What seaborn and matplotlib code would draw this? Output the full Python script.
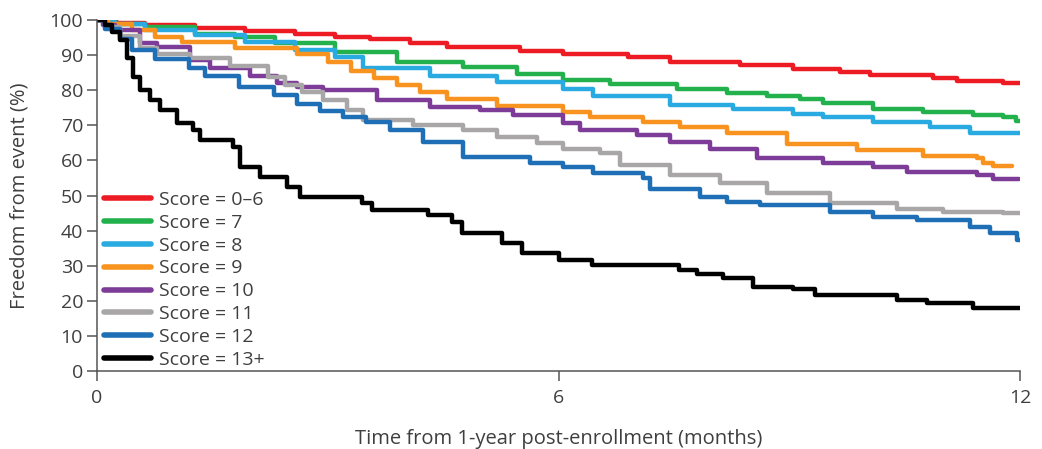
import numpy as np
import pandas as pd
import matplotlib
matplotlib.use("Agg")
import matplotlib.pyplot as plt
import seaborn as sns

# ---- data (months, % freedom from event) ----
labels = ["Score = 0\u20136", "Score = 7", "Score = 8", "Score = 9",
          "Score = 10", "Score = 11", "Score = 12", "Score = 13+"]
colors = ["#ED1C24", "#22B14C", "#29ABE2", "#F7931E",
          "#7D3C98", "#A8A6A6", "#1F6FB6", "#000000"]

t_06 = [0, 0.25, 0.62, 1.27, 1.92, 2.57, 3.1, 3.55, 4.07, 4.55, 5.5, 6.06, 6.9, 7.45, 8.36, 9.05, 9.66, 10.05, 10.87, 11.18, 11.78, 12.0]
s_06 = [100, 99.3, 98.6, 97.7, 96.9, 96.0, 95.2, 94.5, 93.4, 92.4, 91.3, 90.5, 89.4, 88.1, 87.2, 86.1, 85.1, 84.3, 83.4, 82.6, 82.0, 82.0]

t_7 = [0, 0.1, 0.23, 0.62, 1.27, 1.8, 2.31, 3.1, 3.9, 4.76, 5.46, 6.06, 6.67, 7.54, 8.19, 8.71, 9.14, 9.44, 10.09, 10.74, 11.39, 11.78, 11.95, 12.0]
s_7 = [100, 99.6, 99.0, 98.1, 96.2, 95.2, 93.4, 91.0, 88.1, 86.7, 84.8, 83.0, 81.9, 80.3, 79.1, 78.3, 77.4, 76.4, 74.8, 73.9, 72.9, 72.3, 71.3, 71.3]

t_8 = [0, 0.1, 0.23, 0.62, 1.27, 1.92, 2.57, 3.1, 3.46, 4.33, 5.2, 6.06, 6.45, 7.45, 8.27, 9.05, 9.44, 10.09, 10.83, 11.35, 12.0]
s_8 = [100, 99.5, 99.0, 97.2, 95.7, 93.8, 91.5, 89.5, 86.5, 84.0, 82.4, 80.5, 78.3, 75.8, 74.8, 73.2, 72.4, 71.0, 69.6, 67.9, 67.9]

t_9 = [0, 0.15, 0.45, 0.75, 1.1, 1.8, 2.6, 3.0, 3.3, 3.6, 3.9, 4.2, 4.55, 5.2, 6.06, 6.41, 7.1, 7.58, 8.19, 8.97, 9.88, 10.74, 11.44, 11.52, 11.65, 11.9]
s_9 = [100, 99.0, 97.2, 95.2, 93.8, 92.1, 90.3, 88.0, 85.6, 83.6, 81.5, 79.5, 77.5, 75.5, 73.9, 72.4, 71.0, 69.6, 67.7, 64.6, 63.0, 61.3, 60.6, 59.2, 58.4, 58.4]

t_10 = [0, 0.08, 0.23, 0.56, 0.78, 1.21, 1.47, 1.99, 2.34, 2.6, 2.94, 3.64, 4.33, 4.98, 5.41, 6.06, 6.28, 7.02, 7.45, 7.97, 8.58, 9.44, 10.09, 10.53, 11.44, 11.65, 11.98]
s_10 = [100, 98.5, 97.2, 93.4, 92.3, 88.6, 86.3, 84.0, 82.0, 80.9, 80.1, 77.2, 75.3, 74.4, 72.9, 70.6, 68.7, 67.2, 65.3, 63.4, 60.6, 59.2, 58.2, 56.8, 55.8, 54.6, 54.6]

t_11 = [0, 0.1, 0.3, 0.56, 0.78, 1.21, 1.73, 2.22, 2.45, 2.67, 2.94, 3.25, 3.46, 4.11, 4.76, 5.2, 5.72, 6.06, 6.54, 6.8, 7.45, 8.1, 8.71, 9.53, 10.4, 11.0, 11.78, 12.0]
s_11 = [100, 98.0, 95.5, 92.0, 90.3, 89.2, 86.8, 83.8, 81.5, 79.6, 77.2, 74.4, 71.5, 70.1, 68.7, 66.8, 64.9, 63.4, 62.0, 58.7, 55.8, 53.5, 50.6, 47.8, 46.3, 45.4, 44.9, 44.9]

t_12 = [0, 0.1, 0.3, 0.45, 0.75, 1.2, 1.4, 1.85, 2.3, 2.6, 2.9, 3.2, 3.5, 3.81, 4.24, 4.76, 5.63, 6.06, 6.45, 7.1, 7.19, 7.84, 8.19, 8.62, 9.53, 10.09, 10.66, 11.35, 11.61, 11.96, 12.0]
s_12 = [100, 97.5, 94.5, 91.5, 89.0, 86.5, 84.0, 81.0, 78.8, 76.0, 74.0, 72.5, 71.0, 68.7, 65.3, 61.0, 59.2, 58.2, 56.3, 54.9, 52.0, 49.7, 48.2, 47.3, 45.4, 44.0, 43.0, 41.1, 39.2, 37.3, 37.3]

t_13 = [0, 0.1, 0.2, 0.3, 0.39, 0.47, 0.56, 0.69, 0.82, 1.04, 1.25, 1.34, 1.77, 1.86, 2.12, 2.47, 2.64, 3.45, 3.58, 4.3, 4.62, 4.75, 5.27, 5.53, 6.0, 6.44, 7.56, 7.8, 8.14, 8.53, 9.05, 9.34, 10.4, 10.79, 11.39, 12.0]
s_13 = [100, 98.5, 96.6, 94.3, 89.2, 83.8, 80.1, 77.2, 74.4, 70.6, 68.7, 65.8, 63.8, 58.1, 55.3, 52.4, 49.6, 47.8, 45.9, 44.4, 42.5, 39.2, 36.4, 33.5, 31.6, 30.2, 28.8, 27.6, 26.4, 24.0, 23.3, 21.7, 20.2, 19.3, 17.9, 17.9]

times = [t_06, t_7, t_8, t_9, t_10, t_11, t_12, t_13]
surv = [s_06, s_7, s_8, s_9, s_10, s_11, s_12, s_13]

x_ticks = [0, 6, 12]
y_ticks = list(range(0, 101, 10))

frames = []
for lab, tt, ss in zip(labels, times, surv):
    frames.append(pd.DataFrame({"t": tt, "s": ss, "group": lab}))
df = pd.concat(frames, ignore_index=True)

# ---- plot ----
sns.set_style("white")
plt.rcParams["font.family"] = ["Open Sans", "DejaVu Sans"]
txt = "#3f3f3f"

fig = plt.figure(figsize=(10.42, 4.49), dpi=100)
ax = fig.add_axes([0.093, 0.174, 0.886, 0.781])

sns.lineplot(data=df, x="t", y="s", hue="group", hue_order=labels,
             palette=dict(zip(labels, colors)), estimator=None, sort=False,
             drawstyle="steps-post", linewidth=3.2, ax=ax)

ax.set_xlim(0, 12)
ax.set_ylim(0, 100)
ax.set_xticks(x_ticks)
ax.set_yticks(y_ticks)
for s in ["top", "right"]:
    ax.spines[s].set_visible(False)
for s in ["left", "bottom"]:
    ax.spines[s].set_color("#555555")
    ax.spines[s].set_linewidth(1.1)
ax.tick_params(axis="both", direction="out", length=7, width=1.1,
               color="#555555", labelsize=14, labelcolor=txt,
               left=True, bottom=True)
ax.tick_params(axis="x", pad=6)
ax.tick_params(axis="y", pad=3)
ax.set_xlabel("Time from 1-year post-enrollment (months)", fontsize=14.5,
              color=txt, labelpad=16)
ax.set_ylabel("Freedom from event (%)", fontsize=14.5, color=txt, labelpad=14)

handles, labs = ax.get_legend_handles_labels()
leg = ax.legend(handles, labs, loc="lower left", bbox_to_anchor=(0.006, 0.0),
                frameon=False, fontsize=14, handlelength=2.42,
                handletextpad=0.41, labelspacing=0.25, borderaxespad=0.0,
                borderpad=0.1)
for line in leg.get_lines():
    line.set_linewidth(4)
for t in leg.get_texts():
    t.set_color(txt)

fig.savefig("out.png", dpi=100)
